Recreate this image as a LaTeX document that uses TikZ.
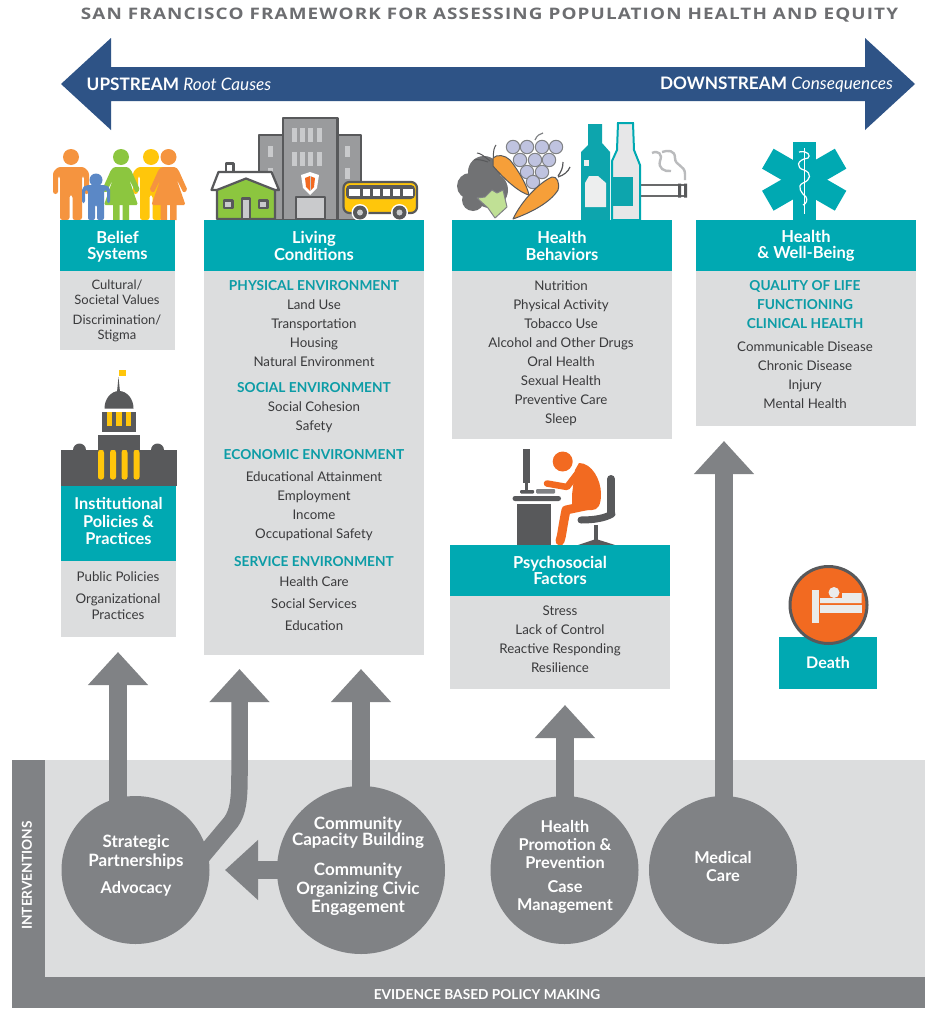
\documentclass[tikz,border=0pt]{standalone}
\usepackage{fontspec}
\setmainfont{Lato}
\newfontfamily\titlefont[LetterSpace=6]{Open Sans}
\usetikzlibrary{arrows.meta,shapes.geometric}
\definecolor{teal}{HTML}{00A9B2}
\definecolor{panel}{HTML}{DCDDDE}
\definecolor{dgray}{HTML}{808285}
\definecolor{icon}{HTML}{58595B}
\definecolor{navy}{HTML}{2E5386}
\definecolor{bodyt}{HTML}{3A3A3C}
\definecolor{head}{HTML}{0C9CA6}
\definecolor{orng}{HTML}{F5943F}
\definecolor{deep}{HTML}{F26A21}
\definecolor{gold}{HTML}{FFC60B}
\definecolor{leaf}{HTML}{8CC63F}
\definecolor{blu}{HTML}{5B88C6}
\definecolor{lite}{HTML}{C9CACC}
\definecolor{grape}{HTML}{BFC3E0}
\pgfdeclarelayer{bg}\pgfdeclarelayer{under}
\pgfsetlayers{bg,under,main}
\tikzset{
  hbox/.style={fill=teal,draw=none,inner sep=0pt,minimum width=#1},
  hdr/.style={text=white,font=\fontsize{16.5}{16.5}\selectfont\bfseries,align=center,inner sep=0pt},
  pan/.style={fill=panel,draw=none},
  lst/.style={text=bodyt,font=\fontsize{13.3}{19}\selectfont,align=center,inner sep=0pt},
  sec/.style={text=head,font=\fontsize{13.7}{19}\selectfont\bfseries,align=center,inner sep=0pt},
  circ/.style={circle,fill=dgray,draw=none,inner sep=0pt,minimum size=#1},
  ctext/.style={text=white,font=\fontsize{16.3}{18}\selectfont\bfseries,align=center,inner sep=0pt},
  blockarrow/.style={draw=dgray,line width=18pt,-{Triangle[length=33pt,width=58pt]}},
  ic/.style={draw=icon,line width=2.2pt,line join=round},
  bandtext/.style={text=white,font=\fontsize{17.2}{17}\selectfont,inner sep=0pt},
  strip/.style={text=white,font=\fontsize{13.7}{14}\selectfont\bfseries,inner sep=0pt},
}
\newcommand{\manfig}[2]{%
  \begin{scope}[shift={#1}]
  \fill[#2] (0,-63) circle (8);
  \fill[#2,rounded corners=2.5pt] (-18,-26) -- (-18,-48) -- (-13,-53) -- (13,-53) -- (18,-48) -- (18,-26) -- (13,-26) -- (13,-44) -- (11,-44) -- (11,0) -- (1.5,0) -- (1.5,-25) -- (-1.5,-25) -- (-1.5,0) -- (-11,0) -- (-11,-44) -- (-13,-44) -- (-13,-26) -- cycle;
  \end{scope}}
\newcommand{\womanfig}[2]{%
  \begin{scope}[shift={#1}]
  \fill[#2] (0,-63) circle (8);
  \fill[#2,rounded corners=1.5pt] (-7,-53) -- (7,-53) -- (10,-50) -- (19,-30) -- (15,-27) -- (8,-41) -- (17,-15) -- (-17,-15) -- (-8,-41) -- (-15,-27) -- (-19,-30) -- (-10,-50) -- cycle;
  \fill[#2] (-8,-16) rectangle (-1.5,0) (1.5,-16) rectangle (8,0);
  \end{scope}}
\begin{document}
\begin{tikzpicture}[x=1pt,y=-1pt]
\useasboundingbox (0,0) rectangle (925,1009);
\begin{pgfonlayer}{bg}
\fill[white] (0,0) rectangle (925,1009);
\fill[dgray] (12,760) rectangle (925,1008);
\fill[panel] (45,760) rectangle (925,977);
\end{pgfonlayer}
% title
\node[text=dgray!85!black,inner sep=0pt] (title) at (489.5,15) {\resizebox{817pt}{11.5pt}{\titlefont\bfseries SAN FRANCISCO FRAMEWORK FOR ASSESSING POPULATION HEALTH AND EQUITY}};
% big arrow
\fill[navy] (61,84) -- (111,38) -- (111,67) -- (865,67) -- (865,38) -- (915,84) -- (865,130) -- (865,101) -- (111,101) -- (111,130) -- cycle;
\node[bandtext] (up) at (179,84.5) {\textbf{UPSTREAM} \textit{Root Causes}};
\node[bandtext] (down) at (776.5,84.5) {\textbf{DOWNSTREAM} \textit{Consequences}};

% ---- icons: people
\manfig{(151,220)}{gold}
\womanfig{(121,220)}{leaf}
\womanfig{(168.5,220)}{orng}
\manfig{(71,220)}{orng}
\begin{scope}[shift={(96,220)}]
\fill[blu] (0,-40) circle (6.5);
\fill[blu,rounded corners=2pt] (-14,-17) -- (-14,-32) -- (-10,-35) -- (10,-35) -- (14,-32) -- (14,-17) -- (11,-17) -- (11,-30) -- (8,-30) -- (8,0) -- (1,0) -- (1,-15) -- (-1,-15) -- (-1,0) -- (-8,0) -- (-8,-30) -- (-11,-30) -- (-11,-17) -- cycle;
\end{scope}

% ---- icons: buildings
\fill[dgray!80!white,ic] (259,135) rectangle (283,220);
\fill[dgray!80!white,ic] (338,135) rectangle (361,220);
\fill[dgray!80!white,ic] (283,118) rectangle (337.5,220);
\foreach \yy in {128,152}\foreach \xx in {291.5,299.5,308,316.5}\fill[lite] (\xx,\yy) rectangle +(5,14);
\foreach \xx/\yy in {270/146,270/168,347/146,347/168}\fill[lite] (\xx-2.5,\yy) rectangle +(5,11);
\fill[lite,ic] (296,197) rectangle (325,219);
\fill[white] (310,172) -- (319,175) -- (317,188) -- (310,195) -- (303,188) -- (301,175) -- cycle;
\fill[deep] (310,176) -- (315,178) -- (314,187) -- (310,191) -- (306,187) -- (305,178) -- cycle;
\draw[lite,line width=.8pt] (310,176) -- (310,191);
% house
\fill[white,ic] (226,163.5) rectangle (233.5,172);
\fill[white,ic] (211.5,190) -- (218.5,172) -- (271.5,172) -- (279,190) -- cycle;
\fill[leaf,ic] (217,219) -- (217,190) -- (246,178.5) -- (275,190) -- (275,219) -- cycle;
\fill[lite,ic] (224,200.5) rectangle (232.5,208);
\fill[lite,ic] (259,200.5) rectangle (267.5,208);
\fill[lite,ic] (242,198.5) rectangle (250,219);
% bus
\fill[gold,ic,rounded corners=6pt] (343.5,182) rectangle (417,213);
\fill[icon,rounded corners=4pt] (346,185) rectangle (415,199);
\foreach \xx/\ww in {349/11,363/7,373/7,383/7,393/7,403/10}\fill[white] (\xx,189) rectangle +(\ww,6.5);
\foreach \xx in {360,399.5}{\fill[white] (\xx,212.5) circle (8.5);\fill[icon] (\xx,212.5) circle (7);\fill[lite] (\xx,212.5) circle (3);}

% ---- icons: food
\fill[icon!85!white] (484,172) circle (16) (470,186) circle (13) (473,200) circle (11) (490,190) circle (18) (498,205) circle (8);
\draw[icon,line width=1pt] (494,160) .. controls (492,152) and (495,146) .. (496,145) (490,161) .. controls (484,156) and (480,153) .. (477,153) (488,162) .. controls (482,160) and (477,159) .. (474,160);
\foreach \xx/\yy in {513/147,527/147,542/147,556/147,520/160,535/160,549/160,527/172,542/172,533/182}
  \fill[grape,draw=dgray,line width=1pt] (\xx,\yy) circle (6.7);
\draw[dgray,line width=1.2pt] (535,140) .. controls (537,135) and (540,134) .. (543,133);
\fill[leaf!55!white,draw=dgray,line width=1pt,line join=round] (477,198) -- (485,197) -- (492,190) -- (497,193) -- (503,190) -- (507,207) -- (495,218) -- (488,208) -- cycle;
\fill[orng!90!yellow,draw=icon,line width=1pt,line join=round] (493,158) .. controls (497,154) and (505,155) .. (510,160) .. controls (518,170) and (527,185) .. (529,195) .. controls (520,193) and (505,180) .. (493,166) -- cycle;
\fill[orng!90!yellow,draw=icon,line width=1pt,line join=round] (513,219) .. controls (522,200) and (540,182) .. (552,177) .. controls (557,176) and (560,183) .. (558,190) .. controls (550,203) and (530,213) .. cycle;
\draw[icon,line width=1.2pt] (558,176) .. controls (561,172) and (563,168) .. (563,162) (558,177) .. controls (564,175) and (568,172) .. (570,167);
% cigarette
\fill[white,draw=icon!90!white,line width=2pt] (640,185) rectangle (686,196);
\fill[icon] (678,183.5) rectangle (681,197.5) (684,183.5) rectangle (687,197.5);
\draw[lite!80!gray,line width=2.4pt] (652,153) .. controls (658,150) and (663,154) .. (660,161) .. controls (658,168) and (664,172) .. (671,171) (662,152) .. controls (668,150) and (675,150) .. (675,158) .. controls (675,166) and (685,165) .. (685,174) -- (685,180);
% bottles
\fill[teal!90!gray] (581,220) -- (581,152) -- (588,145) -- (588,124) -- (602,124) -- (602,143) -- (610,152) -- (610,220) -- cycle;
\fill[panel!50!white] (585,183) -- (589,176) -- (598,176) -- (606,183) -- (606,207) -- (585,207) -- cycle;
\fill[panel!50!white] (584,160) rectangle (589,166);
\fill[panel!70!white,draw=teal,line width=2pt] (612,220) -- (612,161) -- (617,150) -- (618,123) -- (633,123) -- (634,150) -- (640,165) -- (640,220) -- cycle;
\fill[teal!90!gray] (612,177) rectangle (633,206);

% ---- icons: star of life
\fill[teal] (792.7,141.7) rectangle (815.7,220);
\foreach \a in {60,120}\fill[teal,rotate around={\a:(804.2,179.7)}] (792.7,137.7) rectangle (815.7,221.7);
\fill[white] (803.5,148) rectangle +(1.5,66);
\draw[white,line width=1.2pt] (799,152) .. controls (808,150) and (811,156) .. (808,158) .. controls (796,160) and (796,168) .. (804,170) .. controls (812,173) and (811,180) .. (803,183) .. controls (796,186) and (802,194) .. (806,197) .. controls (808,200) and (806,204) .. (803,205);

% ---- icons: capitol
\fill[icon] (61,449.5) rectangle (177,486);
\fill[icon] (79.5,450) circle (6.5) (157.5,450) circle (6.5);
\fill[icon] (97.5,435) rectangle (140,450);
\fill[icon,draw=white,line width=1pt] (101.5,411) rectangle (136,432.5);
\foreach \xx in {106.5,116,125.5}\fill[gold] (\xx,412) rectangle +(5.5,14);
\fill[icon] (104.5,408.5) arc[start angle=180,end angle=360,x radius=14.5,y radius=17.5] -- cycle;
\fill[icon] (117,392) -- (118.5,377) -- (120,392) -- cycle;
\fill[gold] (119,369.5) rectangle (126,376);
\foreach \xx in {98,110,121.5,133.5}
  \fill[gold,rounded corners=2.5pt] (\xx,479.5) -- (\xx,450) -- (\xx+3,450) -- (\xx+6,450) -- (\xx+6,479.5) -- cycle;

% ---- icons: desk + person
\fill[icon] (522.5,449) rectangle (530,483);
\fill[icon,rounded corners=1pt] (520,490) rectangle (534,493.5);
\fill[icon] (525,483) rectangle (528,490);
\fill[dgray,rounded corners=1pt] (536,489) rectangle (555,493.5);
\fill[icon,rounded corners=2.5pt] (512.5,496) rectangle (561,501);
\fill[icon] (516.5,503.5) rectangle (550.5,545);
\draw[icon,line width=8pt,line cap=round] (611,479) -- (611,513);
\draw[icon,line width=7pt,line cap=round] (581,520) .. controls (595,520) and (605,518) .. (612,514);
\fill[icon] (594,525) rectangle (598,541);
\fill[icon] (578,545) -- (596,539) -- (615,545) -- cycle;
\fill[deep] (562.7,461.5) circle (10);
\fill[deep] (579,463) .. controls (592,463) and (601,480) .. (601,494) .. controls (601,505) and (598,510) .. (592,510) -- (572,510) -- (572,495) -- (575,470) -- cycle;
\draw[deep,line width=6.5pt,line cap=round,line join=round] (547,483.5) -- (567,487) -- (580,470);
\draw[deep,line width=9pt,line cap=round,line join=round] (590,505) -- (566,510) .. controls (562,530) and (562,535) .. (560,541);

% ---- panels and headers
\node[pan,minimum width=115pt,minimum height=79pt,inner sep=0pt] (beliefp) at (117.5,310.5) {};
\node[hbox=115pt,minimum height=51pt] (beliefb) at (117.5,245.5) {};
\node[hdr] (belief) at (117.5,246.5) {Belief\\Systems};
\node[lst,font=\fontsize{13}{15}\selectfont] (belief1) at (117,292) {Cultural/\\Societal Values};
\node[lst,font=\fontsize{13}{15}\selectfont] (belief2) at (117,328.5) {Discrimination/\\Stigma};

\node[pan,minimum width=115pt,minimum height=76pt,inner sep=0pt] (instp) at (118.5,599) {};
\node[hbox=115pt,minimum height=75pt] (instb) at (118.5,523.5) {};
\node[hdr,font=\fontsize{16.3}{17.5}\selectfont\bfseries] (inst) at (118.5,521) {Institutional\\Policies \&\\Practices};
\node[lst] (inst1) at (118,576.5) {Public Policies};
\node[lst,font=\fontsize{13.3}{16}\selectfont] (inst2) at (118,606.5) {Organizational\\Practices};

\node[pan,minimum width=220pt,minimum height=384pt,inner sep=0pt] (livingp) at (314,463) {};
\node[hbox=220pt,minimum height=51pt] (livingb) at (314,245.5) {};
\node[hdr] (living) at (314,246) {Living\\Conditions};
\node[sec] (phys) at (314,286) {PHYSICAL ENVIRONMENT};
\node[lst] (physl) at (314,333.5) {Land Use\\Transportation\\Housing\\Natural Environment};
\node[sec] (soc) at (314,388) {SOCIAL ENVIRONMENT};
\node[lst] (socl) at (314,417.5) {Social Cohesion\\Safety};
\node[sec] (econ) at (314,455) {ECONOMIC ENVIRONMENT};
\node[lst] (econl) at (314,506.5) {Educational Attainment\\Employment\\Income\\Occupational Safety};
\node[sec] (serv) at (314,562) {SERVICE ENVIRONMENT};
\node[lst,font=\fontsize{13.3}{22}\selectfont] (servl) at (314,604) {Health Care\\Social Services\\Education};

\node[pan,minimum width=220pt,minimum height=168pt,inner sep=0pt] (behp) at (562,355) {};
\node[hbox=220pt,minimum height=51pt] (behb) at (562,245.5) {};
\node[hdr] (beh) at (562,246) {Health\\Behaviors};
\node[lst] (behl) at (561,353.5) {Nutrition\\Physical Activity\\Tobacco Use\\Alcohol and Other Drugs\\Oral Health\\Sexual Health\\Preventive Care\\Sleep};

\node[pan,minimum width=220pt,minimum height=155pt,inner sep=0pt] (wellp) at (806,348.5) {};
\node[hbox=220pt,minimum height=51pt] (wellb) at (806,245.5) {};
\node[hdr] (well) at (806,246) {Health\\\& Well-Being};
\node[sec] (wellh) at (805,305) {QUALITY OF LIFE\\FUNCTIONING\\CLINICAL HEALTH};
\node[lst] (welll) at (805,375) {Communicable Disease\\Chronic Disease\\Injury\\Mental Health};

\node[pan,minimum width=220pt,minimum height=93pt,inner sep=0pt] (psyp) at (560,642.5) {};
\node[hbox=220pt,minimum height=51pt] (psyb) at (560,570.5) {};
\node[hdr] (psy) at (560,570.5) {Psychosocial\\Factors};
\node[lst] (psyl) at (560,639) {Stress\\Lack of Control\\Reactive Responding\\Resilience};

\node[hbox=98pt,minimum height=52pt] (deathb) at (828,663) {};
\node[hdr,font=\fontsize{16}{16}\selectfont\bfseries] (death) at (828,663) {Death};
% death icon
\node[circle,fill=deep,draw=icon,line width=3pt,minimum size=77pt,inner sep=0pt] (deathc) at (828.5,605) {};
\fill[panel!60!white] (811.5,590) rectangle (818.5,623);
\fill[panel!60!white] (820,605) rectangle (861.5,613);
\fill[panel!60!white] (842,593) -- (861.5,593) -- (861.5,603) -- (820,603) -- (820,598) -- (842,598) -- cycle;
\fill[panel!60!white] (834,592.5) circle (5.5);

% ---- interventions
\node[circ=148pt] (strat) at (135.5,870) {};
\node[ctext,font=\fontsize{17}{19}\selectfont\bfseries] (strat1) at (136,852) {Strategic\\Partnerships};
\node[ctext] (strat2) at (136,889) {Advocacy};
\node[circ=168pt] (comm) at (361,870) {};
\node[ctext,font=\fontsize{17}{15.5}\selectfont\bfseries] (comm1) at (358,832.5) {Community\\Capacity Building};
\node[ctext,font=\fontsize{17}{18.5}\selectfont\bfseries] (comm2) at (358,889.5) {Community\\Organizing Civic\\Engagement};
\node[circ=148pt] (hp) at (564.5,870) {};
\node[ctext] (hp1) at (565,844.5) {Health\\Promotion \&\\Prevention};
\node[ctext] (hp2) at (565,897.5) {Case\\Management};
\node[circ=148pt] (med) at (723,870) {};
\node[ctext] (med1) at (723,866) {Medical\\Care};
\node[strip,rotate=90] (interv) at (27,875.5) {INTERVENTIONS};
\node[strip] (ebpm) at (487,994.5) {EVIDENCE BASED POLICY MAKING};

% ---- connectors
\coordinate (a1) at (118,652);
\coordinate (a2) at (239.5,669);
\coordinate (a2s) at (190,871);
\coordinate (a2m) at (231,822);
\coordinate (a3) at (361,669);
\coordinate (a4) at (225,870);
\coordinate (a5) at (565,705);
\coordinate (a6) at (724,441);
\begin{pgfonlayer}{under}
\draw[blockarrow] (a1 |- strat.center) -- (a1);
\draw[blockarrow,line width=16.5pt] (a2s) -- (a2m) .. controls (238,812) and (239.5,800) .. (239.5,775) -- (a2);
\draw[blockarrow] (comm.center) -- (a3);
\draw[blockarrow] (comm.center) -- (a4);
\draw[blockarrow] (a5 |- hp.center) -- (a5);
\draw[blockarrow] (a6 |- med.center) -- (a6);
\end{pgfonlayer}
\end{tikzpicture}
\end{document}
